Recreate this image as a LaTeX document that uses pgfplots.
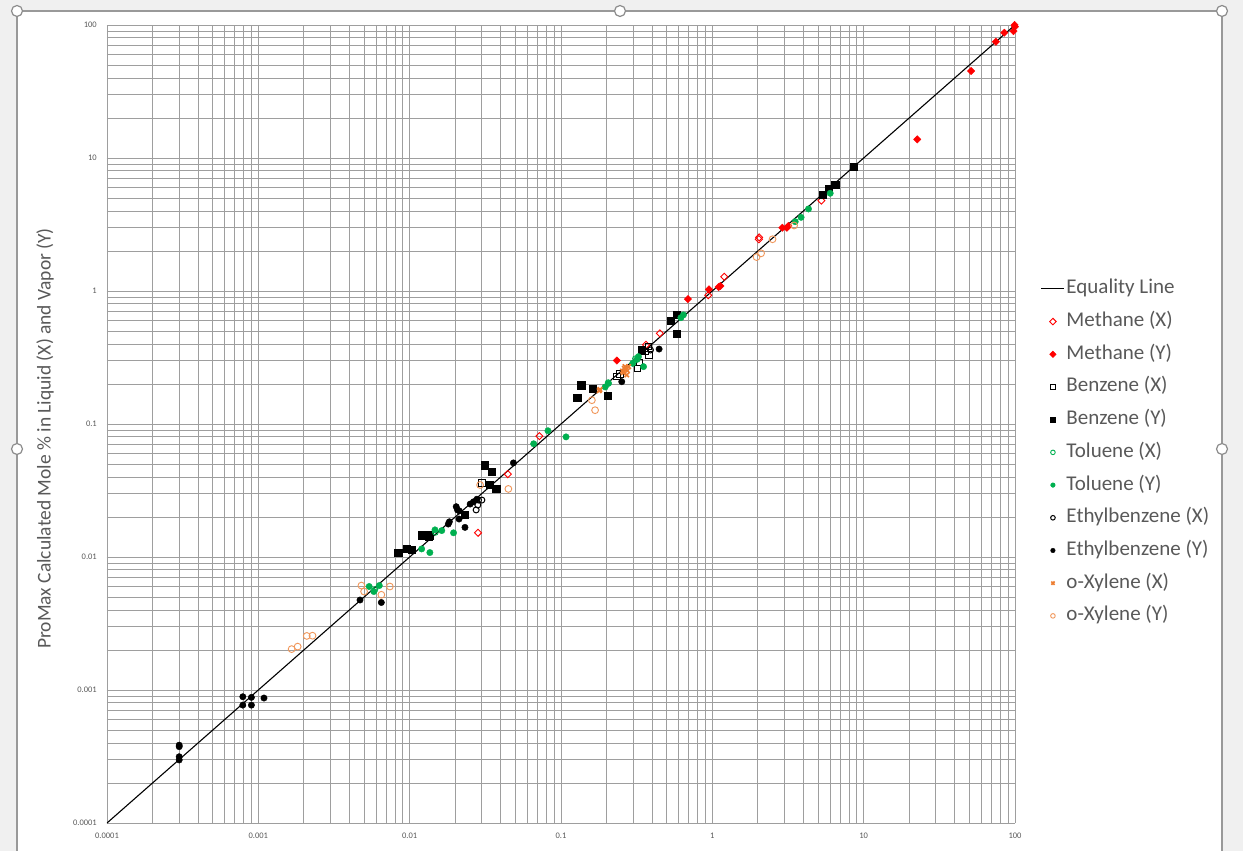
\documentclass[border=0pt]{standalone}
\usepackage{fontspec}
\setmainfont{Carlito}
\usepackage{pgfplots}
\pgfplotsset{compat=1.18}
\definecolor{txt}{HTML}{595959}
\definecolor{gridc}{HTML}{9E9E9E}
\definecolor{mred}{HTML}{FF0000}
\definecolor{tgreen}{HTML}{00B050}
\definecolor{xorange}{HTML}{ED7D31}
\begin{document}
\begin{tikzpicture}
\useasboundingbox (0pt,0pt) rectangle (1243pt,851pt);
\fill[black!6] (0pt,0pt) rectangle (1243pt,851pt);
\fill[white] (17pt,0pt) rectangle (1222pt,840pt);
\draw[black!40, line width=1.3pt] (17pt,0pt) -- (17pt,840pt) -- (1222pt,840pt) -- (1222pt,0pt);
\foreach \px/\py in {17/840,620/840,1222/840,17/402,1222/402}
  \draw[black!45, fill=white, line width=1.2pt] (\px pt,\py pt) circle (5.5pt);
\begin{axis}[
  at={(107pt,28pt)}, anchor=south west, scale only axis,
  width=908pt, height=798pt,
  xmode=log, ymode=log,
  xmin=0.0001, xmax=100, ymin=0.0001, ymax=100,
  grid=both,
  major grid style={draw=gridc, line width=0.8pt},
  minor grid style={draw=gridc, line width=0.8pt},
  axis line style={draw=none},
  tick style={draw=none},
  xtick={0.0001,0.001,0.01,0.1,1,10,100},
  xticklabels={0.0001,0.001,0.01,0.1,1,10,100},
  ytick={0.0001,0.001,0.01,0.1,1,10,100},
  yticklabels={0.0001,0.001,0.01,0.1,1,10,100},
  tick label style={font=\fontsize{8.5}{10}\selectfont, text=txt},
  xticklabel style={anchor=center, yshift=-13pt},
  yticklabel style={anchor=east, inner sep=0pt, xshift=-10pt},
  ylabel={ProMax Calculated Mole \% in Liquid (X) and Vapor (Y)},
  ylabel style={at={(axis description cs:-0.0683,0.482)}, anchor=center, font=\fontsize{19.5}{22}\selectfont, text=txt},
  legend style={at={(1.025,0.6865)}, anchor=north west, draw=none, fill=none,
    font=\fontsize{21}{22}\selectfont, text=txt, row sep=9.7pt,
    nodes={inner sep=1.5pt, text height=15pt, text depth=5pt}},
  legend cell align=left,
  legend image code/.code={\draw[mark repeat=2,mark phase=2] plot coordinates {(0pt,0pt) (11.5pt,0pt) (23pt,0pt)};},
  legend image post style={mark size=2.3pt},
]
\addplot[black, line width=1.1pt] coordinates {(0.0001,0.0001) (100,100)};
\addlegendentry{Equality Line}
% Methane (X)
\addplot[only marks, mark=square, mark size=2.5pt, mark options={rotate=45, draw=mred, fill=none, line width=0.9pt}] coordinates {
(5.26,4.78) (2.04,2.53) (2.03,2.45) (1.20,1.28) (0.94,0.93) (0.45,0.48) (0.365,0.394) (0.072,0.081) (0.0445,0.042) (0.0283,0.0152)
};
\addlegendentry{Methane (X)}
% Methane (Y)
\addplot[only marks, mark=square*, mark size=2.6pt, mark options={rotate=45, draw=mred, fill=mred}] coordinates {
(99.3,100) (100,97) (97.7,90) (85,87.5) (74.8,74.9) (51.3,45.1) (22.6,13.8) (2.90,2.99) (3.11,2.99) (3.18,3.08) (1.13,1.09) (1.10,1.07) (0.95,1.03) (0.69,0.87) (0.234,0.30)
};
\addlegendentry{Methane (Y)}
% Benzene (X)
\addplot[only marks, mark=square, mark size=3.3pt, mark options={draw=black, fill=none, line width=1pt}] coordinates {
(0.378,0.382) (0.382,0.33) (0.33,0.29) (0.32,0.262) (0.234,0.227) (0.246,0.238) (0.030,0.036) (0.36,0.35)
};
\addlegendentry{Benzene (X)}
% Benzene (Y)
\addplot[only marks, mark=square*, mark size=3.6pt, mark options={draw=black, fill=black}] coordinates {
(8.57,8.6) (6.48,6.27) (5.85,5.85) (5.34,5.33) (0.58,0.66) (0.53,0.60) (0.58,0.48) (0.136,0.196) (0.162,0.185) (0.128,0.158) (0.203,0.163) (0.0315,0.049) (0.035,0.044) (0.0336,0.0352) (0.0373,0.0325) (0.0232,0.0207) (0.0120,0.0146) (0.0133,0.0142) (0.0136,0.0146) (0.0084,0.0108) (0.0096,0.0115) (0.0103,0.0113) (0.342,0.36)
};
\addlegendentry{Benzene (Y)}
% Toluene (X)
\addplot[only marks, mark=o, mark size=2.8pt, mark options={draw=tgreen, line width=0.9pt}] coordinates {
(0.0059,0.0057) (0.205,0.205) (0.31,0.31) (0.0148,0.0153)
};
\addlegendentry{Toluene (X)}
% Toluene (Y)
\addplot[only marks, mark=*, mark size=3.2pt, mark options={draw=tgreen, fill=tgreen}] coordinates {
(6.01,5.43) (4.32,4.14) (3.86,3.58) (3.53,3.32) (0.644,0.661) (0.62,0.63) (0.351,0.27) (0.325,0.321) (0.318,0.306) (0.298,0.286) (0.206,0.202) (0.196,0.19) (0.108,0.080) (0.082,0.089) (0.066,0.071) (0.0147,0.016) (0.0163,0.0158) (0.0195,0.0152) (0.012,0.0115) (0.0136,0.0108) (0.0054,0.0060) (0.0063,0.0061) (0.0058,0.0055)
};
\addlegendentry{Toluene (Y)}
% Ethylbenzene (X)
\addplot[only marks, mark=o, mark size=3pt, mark options={draw=black, line width=1pt}] coordinates {
(0.0282,0.0246) (0.0275,0.0226) (0.0285,0.0268) (0.030,0.0268) (0.39,0.36)
};
\addlegendentry{Ethylbenzene (X)}
% Ethylbenzene (Y)
\addplot[only marks, mark=*, mark size=3.2pt, mark options={draw=black, fill=black}] coordinates {
(0.0003,0.000385) (0.0003,0.000375) (0.0003,0.000315) (0.0003,0.000298) (0.00079,0.00089) (0.0009,0.00088) (0.00079,0.00077) (0.0009,0.00077) (0.00109,0.00087) (0.0047,0.00475) (0.0065,0.00455) (0.0485,0.051) (0.0278,0.0272) (0.0264,0.026) (0.0251,0.025) (0.0203,0.0239) (0.0207,0.0226) (0.0213,0.0222) (0.0212,0.0193) (0.0183,0.0184) (0.018,0.0177) (0.0232,0.0167) (0.252,0.208) (0.445,0.366)
};
\addlegendentry{Ethylbenzene (Y)}
% o-Xylene (X)
\addplot[only marks, mark=x, mark size=3.2pt, mark options={draw=xorange, line width=1.6pt}] coordinates {
(0.265,0.27) (0.275,0.252) (0.258,0.243) (0.272,0.234) (0.181,0.182) (0.179,0.178) (0.262,0.262) (0.268,0.258) (0.255,0.25) (0.28,0.27)
};
\addlegendentry{o-Xylene (X)}
% o-Xylene (Y)
\addplot[only marks, mark=o, mark size=3.4pt, mark options={draw=xorange!80, line width=0.9pt}] coordinates {
(3.47,3.11) (2.50,2.45) (1.96,1.80) (2.10,1.92) (0.16,0.151) (0.168,0.127) (0.0292,0.0348) (0.0449,0.0325) (0.0048,0.0061) (0.005,0.0055) (0.0074,0.006) (0.0065,0.0052) (0.00166,0.00203) (0.00182,0.00212) (0.00209,0.00255) (0.00228,0.00256)
};
\addlegendentry{o-Xylene (Y)}
\end{axis}
\end{tikzpicture}
\end{document}
